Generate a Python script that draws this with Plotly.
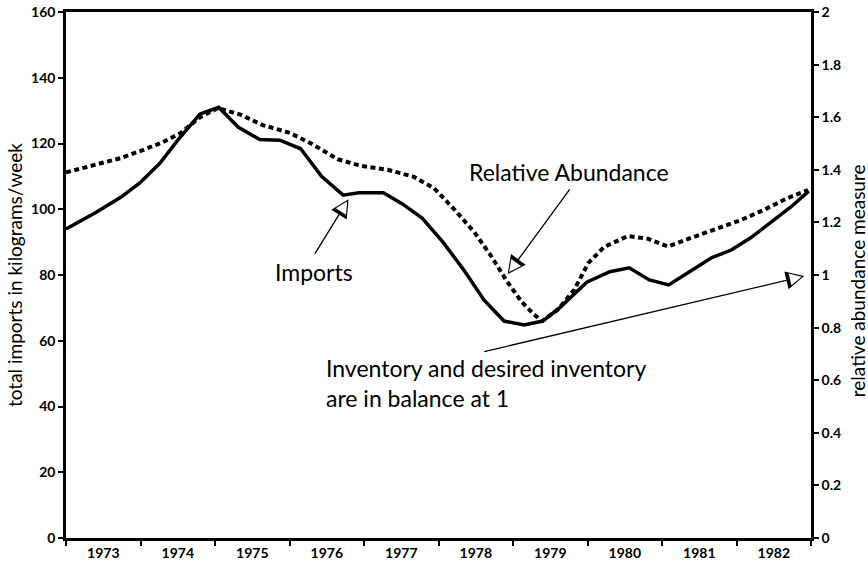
import plotly.graph_objects as go

# ---- data ----
imports_years = [1973.00, 1973.40, 1973.74, 1973.99, 1974.26, 1974.50, 1974.80, 1975.05,
                 1975.31, 1975.60, 1975.87, 1976.15, 1976.43, 1976.72, 1976.93, 1977.26,
                 1977.51, 1977.78, 1978.06, 1978.34, 1978.61, 1978.88, 1979.15, 1979.40,
                 1979.64, 1979.99, 1980.30, 1980.56, 1980.83, 1981.09, 1981.39, 1981.67,
                 1981.93, 1982.19, 1982.46, 1982.73, 1982.97]
imports_kg = [94.0, 99.0, 103.7, 108.0, 114.0, 121.0, 129.0, 131.0,
              125.0, 121.2, 121.0, 118.4, 110.0, 104.3, 105.0, 105.0,
              101.7, 97.3, 90.0, 81.5, 72.4, 66.0, 64.8, 66.0,
              70.3, 77.8, 81.0, 82.2, 78.5, 77.0, 81.3, 85.3,
              87.6, 91.3, 96.0, 100.7, 105.5]

abund_years = [1973.00, 1973.40, 1973.74, 1974.03, 1974.30, 1974.54, 1974.80, 1975.04,
               1975.34, 1975.64, 1976.01, 1976.29, 1976.65, 1976.96, 1977.32, 1977.67,
               1977.94, 1978.21, 1978.48, 1978.70, 1978.91, 1979.11, 1979.28, 1979.39,
               1979.60, 1979.82, 1980.01, 1980.22, 1980.54, 1980.81, 1981.08, 1981.39,
               1981.75, 1982.06, 1982.37, 1982.69, 1982.96]
abund_rel = [1.390, 1.420, 1.445, 1.475, 1.505, 1.540, 1.600, 1.635,
             1.610, 1.570, 1.540, 1.500, 1.440, 1.415, 1.400, 1.373,
             1.330, 1.250, 1.163, 1.075, 0.980, 0.900, 0.850, 0.825,
             0.868, 0.943, 1.045, 1.106, 1.148, 1.138, 1.108, 1.141,
             1.179, 1.209, 1.248, 1.293, 1.323]

year_labels = ["1973", "1974", "1975", "1976", "1977", "1978", "1979", "1980", "1981", "1982"]
year_label_pos = [int(y) + 0.5 for y in year_labels]
year_bounds = list(range(1973, 1984))

FONT = "Lato"
fig = go.Figure()

fig.add_trace(go.Scatter(x=imports_years, y=imports_kg, mode="lines", name="Imports",
                         line=dict(color="black", width=3.5), yaxis="y"))
fig.add_trace(go.Scatter(x=abund_years, y=abund_rel, mode="lines", name="Relative Abundance",
                         line=dict(color="black", width=4, dash="5px,3.5px"), yaxis="y2"))

tickfont = dict(family=FONT, size=14, color="black", weight="bold")
fig.update_layout(
    width=868, height=567,
    margin=dict(l=66, r=57, t=12, b=29, autoexpand=False),
    paper_bgcolor="white", plot_bgcolor="white",
    showlegend=False,
    xaxis=dict(range=[1973, 1983], tickmode="array", tickvals=year_label_pos,
               ticktext=year_labels, ticks="", showgrid=False, zeroline=False,
               showline=True, linecolor="black", linewidth=2.5, mirror=True,
               tickfont=tickfont, automargin=False,
               minor=dict(tickmode="array", tickvals=year_bounds, ticks="outside",
                          ticklen=5, tickwidth=1.5, tickcolor="black", showgrid=False)),
    yaxis=dict(range=[0, 160], dtick=20, ticks="outside", ticklen=5, tickwidth=1.5,
               tickcolor="black", showgrid=False, zeroline=False, showline=True,
               linecolor="black", linewidth=2.5, tickfont=tickfont, automargin=False),
    yaxis2=dict(range=[0, 2], dtick=0.2, overlaying="y", side="right", ticks="outside",
                ticklen=5, tickwidth=1.5, tickcolor="black", showgrid=False,
                zeroline=False, showline=True, linecolor="black", linewidth=2.5,
                tickfont=tickfont, automargin=False),
)

txt = dict(family=FONT, size=23, color="black")
ann = []
# axis titles
ann.append(dict(text="total imports in kilograms/week", xref="paper", yref="paper",
                x=-0.0698, y=0.5, xanchor="center", yanchor="middle", textangle=-90,
                showarrow=False, font=dict(family=FONT, size=19, color="black")))
ann.append(dict(text="relative abundance measure", xref="paper", yref="paper",
                x=1.0617, y=0.49, xanchor="center", yanchor="middle", textangle=-90,
                showarrow=False, font=dict(family=FONT, size=19, color="black")))
# labels
ann.append(dict(text="Relative Abundance", x=1979.75, y=111.3, xref="x", yref="y",
                showarrow=False, font=txt))
ann.append(dict(text="Imports", x=1976.33, y=80.9, xref="x", yref="y",
                showarrow=False, font=txt))
ann.append(dict(text="Inventory and desired inventory<br>are in balance at 1",
                x=1976.46, y=47, xref="x", yref="y", xanchor="left", align="left",
                showarrow=False, font=txt))

# arrows (tip in data coordinates, tail offset in pixels) with hollow heads
arrows = [
    dict(x=1978.89, y=79.1, yref="y", ax=66, ay=-90),
    dict(x=1976.826, y=104.3, yref="y", ax=-37, ay=60),
    dict(x=1982.97, y=1.0, yref="y2", ax=-326, ay=77),
]
S_W, S_SIZE = 1.3, 2.8
S = S_W * S_SIZE
s = 2.4
for a in arrows:
    ann.append(dict(text="", x=a["x"], y=a["y"], xref="x", yref=a["yref"],
                    ax=a["ax"], ay=a["ay"], showarrow=True, arrowhead=2,
                    arrowsize=S_SIZE, arrowwidth=S_W, arrowcolor="black",
                    standoff=1.3 * S))
    L = (a["ax"] ** 2 + a["ay"] ** 2) ** 0.5
    ann.append(dict(text="", x=a["x"], y=a["y"], xref="x", yref=a["yref"],
                    ax=a["ax"] / L * 13, ay=a["ay"] / L * 13, showarrow=True,
                    arrowhead=2, arrowsize=s, arrowwidth=1, arrowcolor="white",
                    standoff=3.333 * S - 2.033 * s))
fig.update_layout(annotations=ann)

fig.write_html("out.html", config={"displayModeBar": False},
               post_script="document.body.style.margin='0';document.body.style.overflow='hidden';")
